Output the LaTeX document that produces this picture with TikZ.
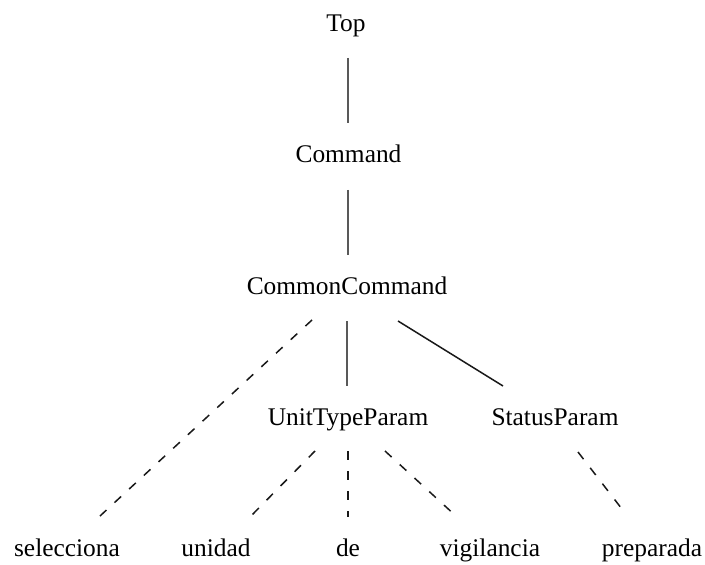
\documentclass[tikz,border=0pt]{standalone}
\usepackage{fontspec}
\setmainfont{Liberation Serif}
\begin{document}
\begin{tikzpicture}[x=1bp,y=-1bp,
  word/.style={anchor=base,inner sep=0pt,outer sep=0pt,font=\fontsize{25.5}{30}\selectfont},
  trunk/.style={draw=black!65,line width=1.9bp},
  branch/.style={draw=black!90,line width=1.5bp},
  leafline/.style={draw=black!90,line width=1.5bp,dash pattern=on 9bp off 11bp}]
\useasboundingbox[fill=white] (0,0) rectangle (705,565);

% tree nodes (placed at their baselines)
\node[word] (top) at (346,32)  {Top};
\node[word] (cmd) at (348.5,163) {Command};
\node[word] (cc)  at (347,294) {CommonCommand};
\node[word] (utp) at (348,425) {UnitTypeParam};
\node[word] (sp)  at (555,425) {StatusParam};
\node[word] (sel) at (67,556)  {selecciona};
\node[word] (uni) at (216,556) {unidad};
\node[word] (de)  at (348,556) {de};
\node[word] (vig) at (490,556) {vigilancia};
\node[word] (pre) at (652,556) {preparada};

% solid structural edges
\draw[trunk]  ([shift={(2,26)}]top.base)   -- ([shift={(-0.5,-40)}]cmd.base);
\draw[trunk]  ([shift={(-0.5,27)}]cmd.base) -- ([shift={(1,-39)}]cc.base);
\draw[trunk]  ([shift={(0,27)}]cc.base)    -- ([shift={(-1,-39)}]utp.base);
\draw[branch] ([shift={(51,27)}]cc.base)   -- ([shift={(-52,-39)}]sp.base);

% dashed edges down to the words
\draw[leafline] ([shift={(-35,26)}]cc.base) -- ([shift={(33,-40)}]sel.base);
\draw[leafline] ([shift={(-33,26)}]utp.base) -- ([shift={(34,-39)}]uni.base);
\draw[leafline] ([shift={(0,26)}]utp.base)  -- ([shift={(0,-39)}]de.base);
\draw[leafline] ([shift={(37,26)}]utp.base) -- ([shift={(-33,-39)}]vig.base);
\draw[leafline] ([shift={(23,27)}]sp.base)  -- ([shift={(-27,-43)}]pre.base);
\end{tikzpicture}
\end{document}
